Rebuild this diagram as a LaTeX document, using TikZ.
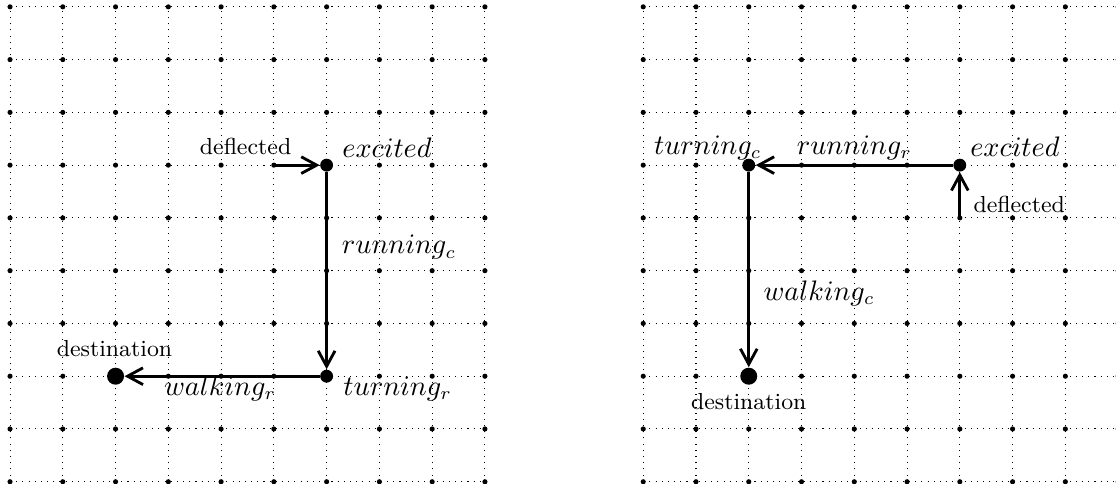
\documentclass[tikz,border=0pt]{standalone}
\usepackage{amsmath}
\usepackage{tikz}
\usetikzlibrary{arrows.meta}

\begin{document}
\begin{tikzpicture}[x=0.72cm,y=0.72cm,
  state/.style={circle,fill=black,inner sep=0pt,minimum size=5pt},
  goal/.style={circle,fill=black,inner sep=0pt,minimum size=6.6pt},
  move/.style={line width=1.1pt,-{Straight Barb[length=6pt,width=6.5pt]}},
  lbl/.style={inner sep=0pt,font=\fontsize{10.6}{12}\selectfont},
  txt/.style={inner sep=0pt,font=\small}]
  \useasboundingbox (-0.19,-0.04) rectangle (20.96,9.13);
  % dotted grids with points
  \foreach \ox in {0,12} {
    \draw[dotted] (\ox,0) grid[step=1] (\ox+9,9);
    \foreach \x in {0,...,9} \foreach \y in {0,...,9} \fill (\ox+\x,\y) circle (1pt);
  }
  % left: deflected to the right
  \node[state] (excL) at (6,6) {};
  \node[state] (turnL) at (6,2) {};
  \node[goal] (destL) at (2,2) {};
  \coordinate (deflL) at (5,6);
  \draw[move] (deflL) -- (excL);
  \draw[move] (excL) -- (turnL);
  \draw[move] (turnL) -- (destL);
  \node[txt,anchor=base east] (deflLabL) at (5.34,6.21) {deflected};
  \node[lbl,anchor=base west] (excLabL) at (6.29,6.15) {$excited$};
  \node[lbl,anchor=base west] (runLabL) at (6.28,4.32) {$running_c$};
  \node[lbl,anchor=base] (walkLabL) at (3.98,1.64) {$walking_r$};
  \node[lbl,anchor=base west] (turnLabL) at (6.31,1.64) {$turning_r$};
  \node[txt,anchor=base] (destLabL) at (1.98,2.38) {destination};
  % right: deflected upwards
  \node[state] (excR) at (18,6) {};
  \node[state] (turnR) at (14,6) {};
  \node[goal] (destR) at (14,2) {};
  \coordinate (deflR) at (18,5);
  \draw[move] (deflR) -- (excR);
  \draw[move] (excR) -- (turnR);
  \draw[move] (turnR) -- (destR);
  \node[txt,anchor=base west] (deflLabR) at (18.25,5.11) {deflected};
  \node[lbl,anchor=base west] (excLabR) at (18.19,6.17) {$excited$};
  \node[lbl,anchor=base] (runLabR) at (16.0,6.21) {$running_r$};
  \node[lbl,anchor=base east] (turnLabR) at (14.25,6.21) {$turning_c$};
  \node[lbl,anchor=base west] (walkLabR) at (14.27,3.43) {$walking_c$};
  \node[txt,anchor=base] (destLabR) at (14,1.36) {destination};
\end{tikzpicture}
\end{document}
